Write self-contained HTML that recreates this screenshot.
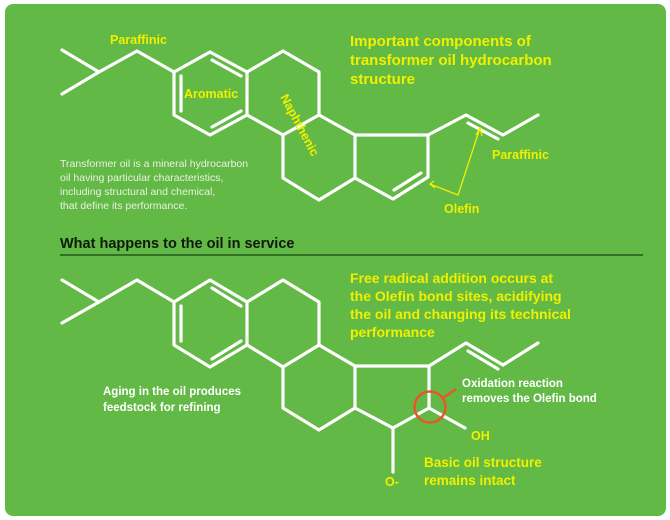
<!DOCTYPE html>
<html><head><meta charset="utf-8"><style>
body{margin:0;width:670px;height:520px;background:#fff;overflow:hidden}
svg{display:block}
text{font-family:"Liberation Sans",sans-serif}
</style></head><body>
<svg width="670" height="520" viewBox="0 0 670 520">
<rect x="5" y="4" width="661" height="512" rx="8" fill="#63b946"/>
<g stroke="#fff" stroke-width="3.2" fill="none" stroke-linejoin="round" stroke-linecap="round">
<polyline points="62,50 99,72 62,94"/>
<polyline points="99,72 137,51 174,72"/>
<polygon points="174,72 210,52 247,72 247,115 210,135 174,115"/>
<line x1="212" y1="60" x2="241" y2="76"/>
<line x1="181" y1="76" x2="181" y2="111"/>
<line x1="212" y1="127" x2="241" y2="111"/>
<polyline points="247,72 283,51 319,72 319,115 283,135 247,115"/>
<polyline points="319,115 355,135 355,178 319,200 283,178 283,135"/>
<polyline points="355,135 428,135 428,177 393,199 355,178"/>
<line x1="421" y1="173" x2="394" y2="190"/>
<polyline points="428,135 466,115 503,135 538,115"/>
<line x1="468" y1="123" x2="498" y2="139"/>
<polyline points="62,280 99,302 62,323"/>
<polyline points="99,302 137,280 174,302"/>
<polygon points="174,302 210,280 247,302 247,345 210,367 174,345"/>
<line x1="212" y1="288" x2="241" y2="306"/>
<line x1="181" y1="306" x2="181" y2="341"/>
<line x1="212" y1="359" x2="241" y2="341"/>
<polyline points="247,302 283,280 319,302 319,345 283,367 247,345"/>
<polyline points="319,345 355,366 355,408 319,430 283,408 283,367"/>
<polyline points="355,366 429,366 429,408 393,428 355,408"/>
<line x1="429" y1="408" x2="465" y2="428"/>
<line x1="393" y1="428" x2="393" y2="472"/>
<polyline points="429,366 466,343 503,365 538,343"/>
<line x1="468" y1="351" x2="498" y2="369"/>
</g>
<circle cx="430" cy="407" r="15.5" fill="none" stroke="#e8562a" stroke-width="2.5"/>
<line x1="443" y1="398" x2="456" y2="389" stroke="#e8562a" stroke-width="2.5"/>
<g stroke="#f0f000" stroke-width="1.3" fill="none">
<polyline points="480,128 458,195 430,184"/>
<polyline points="476,135 480,128 482,136"/>
<polyline points="434,181 430,184 435,188"/>
</g>
<g fill="#f0f000" font-weight="bold">
<text x="110" y="44" font-size="12.5">Paraffinic</text>
<text x="184" y="98" font-size="12.5">Aromatic</text>
<text font-size="12.5" transform="translate(280,97) rotate(62)">Naphthenic</text>
<text x="492" y="159" font-size="12.5">Paraffinic</text>
<text x="444" y="213" font-size="12.5">Olefin</text>
<text font-size="15"><tspan x="350" y="46">Important components of</tspan><tspan x="350" y="65">transformer oil hydrocarbon</tspan><tspan x="350" y="84">structure</tspan></text>
<text font-size="14"><tspan x="350" y="283">Free radical addition occurs at</tspan><tspan x="350" y="301">the Olefin bond sites, acidifying</tspan><tspan x="350" y="319">the oil and changing its technical</tspan><tspan x="350" y="337">performance</tspan></text>
<text x="471" y="440" font-size="12.5">OH</text>
<text x="385" y="486" font-size="12.5">O-</text>
<text font-size="13.5"><tspan x="424" y="467">Basic oil structure</tspan><tspan x="424" y="485">remains intact</tspan></text>
</g>
<g fill="#e8f2e0" font-size="10.5">
<text><tspan x="60" y="167">Transformer oil is a mineral hydrocarbon</tspan><tspan x="60" y="181">oil having particular characteristics,</tspan><tspan x="60" y="195">including structural and chemical,</tspan><tspan x="60" y="209">that define its performance.</tspan></text>
</g>
<g fill="#fff" font-size="11.5" font-weight="bold">
<text><tspan x="103" y="395">Aging in the oil produces</tspan><tspan x="103" y="411">feedstock for refining</tspan></text>
<text><tspan x="462" y="387">Oxidation reaction</tspan><tspan x="462" y="402">removes the Olefin bond</tspan></text>
</g>
<text x="60" y="248" font-size="14.5" font-weight="bold" fill="#0e1a0a">What happens to the oil in service</text>
<line x1="60" y1="255" x2="643" y2="255" stroke="#1f5a1a" stroke-width="1.5"/>
</svg>
</body></html>
